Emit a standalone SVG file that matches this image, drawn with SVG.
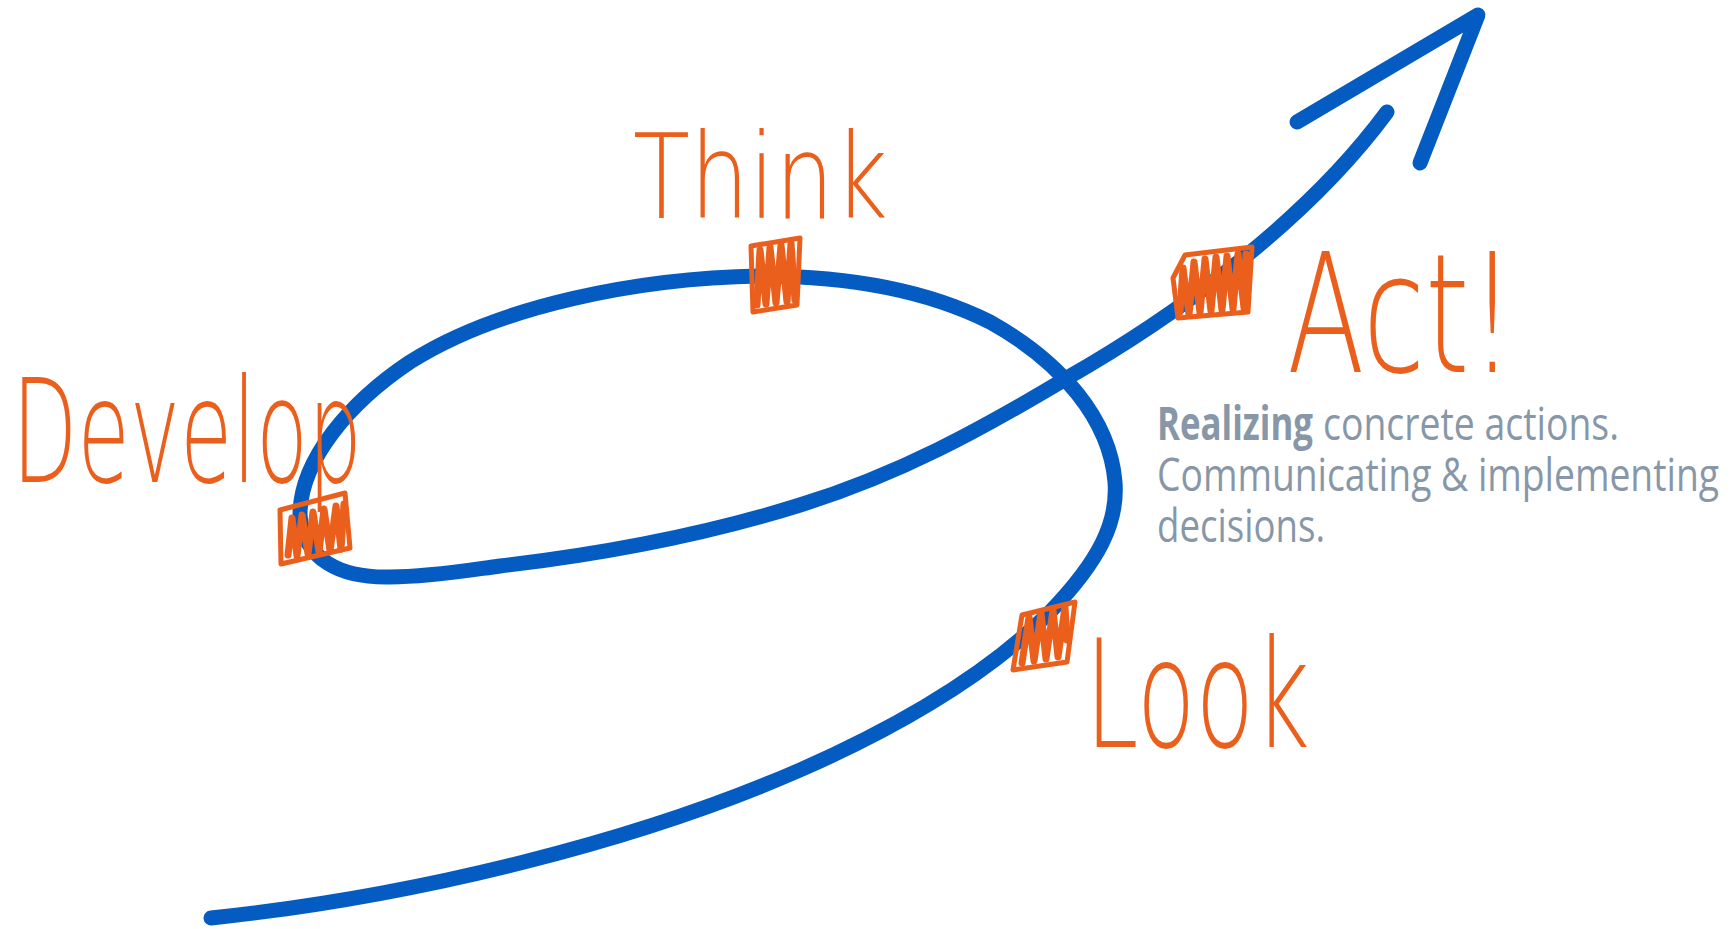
<svg xmlns="http://www.w3.org/2000/svg" width="1731" height="929" viewBox="0 0 1731 929">
<style>
.flow{fill:none;stroke:#045CC2;stroke-width:15;stroke-linecap:round;stroke-linejoin:round}
.box{fill:none;stroke:#EB5F1C;stroke-width:5;stroke-linejoin:round;stroke-linecap:round}
.scrib{fill:none;stroke:#EB5F1C;stroke-width:7;stroke-linejoin:round;stroke-linecap:round}
.hand{font-family:"DejaVu Sans",sans-serif;font-weight:200;fill:#EB5F1C}
.desc{font-family:"Open Sans","Noto Sans",sans-serif;fill:#8797A7;font-size:46px}
</style>
<g id="connectors">
<path class="flow" d="M 211 918 C 420 896, 640 840, 800 770 C 900 726, 990 672, 1050 612 C 1100 560, 1118 522, 1115 482 C 1110 420, 1062 362, 990 322 C 920 287, 840 276, 760 276 C 640 278, 500 305, 410 362 C 350 402, 300 460, 300 515 C 304 560, 340 578, 390 577 C 430 577, 470 570, 500 566 C 620 552, 720 530, 800 505 C 900 474, 980 430, 1067 378 C 1160 325, 1300 230, 1387 112"/>
<polyline class="flow" points="1297,122 1478,15 1420,163"/>
</g>
<g id="develop">
<polygon class="box" points="280,510 345,493 350,548 281,564"/>
<polyline class="scrib" points="288,555 292,518 297,556 302,515 308,554 313,512 319,552 324,509 330,551 336,506 341,549 344,504"/>
<text class="hand" x="12" y="482" font-size="145" textLength="350" lengthAdjust="spacingAndGlyphs">Develop</text>
</g>
<g id="think">
<polygon class="box" points="751,246 800,238 797,305 753,312" fill="#EB5F1C" fill-opacity="0.85"/>
<polyline class="scrib" points="757,305 760,250 766,304 770,247 776,303 781,245 787,302 791,243 795,300"/>
<text class="hand" x="633" y="218" font-size="118" textLength="255" lengthAdjust="spacingAndGlyphs">Think</text>
</g>
<g id="act">
<polygon class="box" points="1185,255 1252,247 1248,312 1178,318 1173,278"/>
<polyline class="scrib" points="1180,312 1183,268 1189,315 1194,262 1200,313 1205,259 1211,311 1216,257 1222,310 1227,256 1233,309 1238,254 1244,308 1246,254"/>
<text class="hand" x="1287" y="372" font-size="165" textLength="228" lengthAdjust="spacingAndGlyphs">Act!</text>
</g>
<g id="look">
<polygon class="box" points="1022,615 1075,602 1067,662 1013,670"/>
<polyline class="scrib" points="1022,663 1029,617 1034,661 1041,613 1046,659 1053,610 1058,657 1065,607 1067,640"/>
<text class="hand" x="1085" y="747" font-size="150" textLength="225" lengthAdjust="spacingAndGlyphs">Look</text>
</g>
<g id="description">
<text class="desc" y="440"><tspan x="1157" font-weight="bold" textLength="156" lengthAdjust="spacingAndGlyphs">Realizing</tspan><tspan x="1323" textLength="296" lengthAdjust="spacingAndGlyphs">concrete actions.</tspan></text>
<text class="desc" x="1157" y="491" textLength="562" lengthAdjust="spacingAndGlyphs">Communicating &amp; implementing</text>
<text class="desc" x="1157" y="542" textLength="168" lengthAdjust="spacingAndGlyphs">decisions.</text>
</g>
</svg>
